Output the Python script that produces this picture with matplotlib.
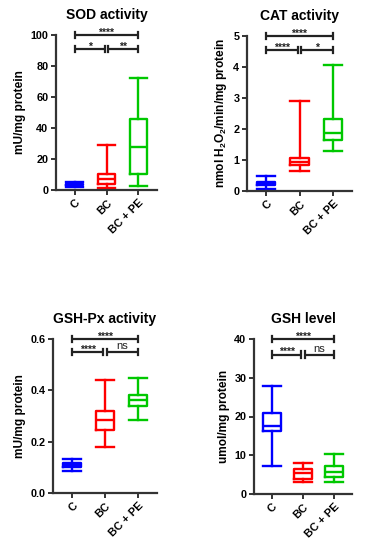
import matplotlib
matplotlib.use("Agg")
import matplotlib.pyplot as plt

plt.rcParams['font.family'] = ['Liberation Sans', 'DejaVu Sans']
plt.rcParams['font.weight'] = 'bold'
plt.rcParams['mathtext.fontset'] = 'custom'
plt.rcParams['mathtext.bf'] = 'Liberation Sans:bold'
plt.rcParams['mathtext.rm'] = 'Liberation Sans:bold'
plt.rcParams['mathtext.default'] = 'bf'

groups = ["C", "BC", "BC + PE"]
colors = ["#0000ff", "#ff0000", "#00c800"]

# box stats per group: (whisker low, q1, median, q3, whisker high)
sod = [(2, 3, 3.5, 4, 5), (1, 4, 7, 10.5, 29), (2.5, 10.5, 27.5, 46, 72)]
cat = [(0.05, 0.18, 0.24, 0.30, 0.48), (0.65, 0.85, 0.95, 1.05, 2.9), (1.28, 1.65, 1.88, 2.32, 4.07)]
gpx = [(0.085, 0.100, 0.110, 0.118, 0.132), (0.18, 0.245, 0.285, 0.32, 0.44), (0.283, 0.34, 0.362, 0.382, 0.447)]
gsh = [(7.2, 16.2, 17.6, 20.8, 28), (3, 4, 5.3, 6.5, 8), (3, 4.3, 5.8, 7.2, 10.4)]

panels = [
    dict(title="SOD activity", data=sod, ylabel="mU/mg protein", ymax=100, yticks=[0, 20, 40, 60, 80, 100],
         fmt="{:.0f}", sig=["****", "*", "**"], lo=91, rect=[56, 35, 157, 190]),
    dict(title="CAT activity", data=cat, ylabel=r"nmol H$_2$O$_2$/min/mg protein", ymax=5, yticks=[0, 1, 2, 3, 4, 5],
         fmt="{:.0f}", sig=["****", "****", "*"], lo=4.55, rect=[247, 36, 352, 191]),
    dict(title="GSH-Px activity", data=gpx, ylabel="mU/mg protein", ymax=0.6, yticks=[0, 0.2, 0.4, 0.6],
         fmt="{:.1f}", sig=["****", "****", "ns"], lo=0.55, rect=[53, 339, 157, 493]),
    dict(title="GSH level", data=gsh, ylabel="umol/mg protein", ymax=40, yticks=[0, 10, 20, 30, 40],
         fmt="{:.0f}", sig=["****", "****", "ns"], lo=36, rect=[254, 339, 352, 494]),
]

W, H = 365, 550
fig = plt.figure(figsize=(W / 100, H / 100), dpi=100)

for p in panels:
    x0, y0, x1, y1 = p["rect"]
    ax = fig.add_axes([x0 / W, 1 - y1 / H, (x1 - x0) / W, (y1 - y0) / H])
    stats = []
    for g, (wl, q1, med, q3, wh) in zip(groups, p["data"]):
        stats.append(dict(label=g, whislo=wl, q1=q1, med=med, q3=q3, whishi=wh, fliers=[]))
    bp = ax.bxp(stats, positions=range(3), widths=0.55, showfliers=False, patch_artist=False,
                capwidths=0.55)
    for i, c in enumerate(colors):
        for art in [bp["boxes"][i], bp["medians"][i]] + bp["whiskers"][2 * i:2 * i + 2] + bp["caps"][2 * i:2 * i + 2]:
            art.set_color(c)
            art.set_linewidth(1.7)
    ax.set_xlim(-0.58, 2.58)
    ax.set_ylim(0, p["ymax"])
    ax.set_yticks(p["yticks"])
    ax.set_yticklabels([p["fmt"].format(t) for t in p["yticks"]], fontsize=7.8, fontweight="bold")
    ax.set_xticks(range(3))
    ax.set_xticklabels(groups, rotation=45, ha="right", rotation_mode="anchor", fontsize=8, fontweight="bold")
    for s in ["top", "right"]:
        ax.spines[s].set_visible(False)
    for s in ["left", "bottom"]:
        ax.spines[s].set_linewidth(1.6)
        ax.spines[s].set_color("#333333")
    ax.tick_params(width=1.4, length=3.5, color="#333333", pad=2)
    ax.set_ylabel(p["ylabel"], fontsize=8.6, fontweight="bold", labelpad=3)
    ax.set_title(p["title"], fontsize=10, fontweight="bold", pad=11.5)

    # significance brackets
    top = p["ymax"]
    lo = p["lo"]
    tk = p["ymax"] * 0.02
    brackets = [(0, 2, top, p["sig"][0]), (0, 0.94, lo, p["sig"][1]), (1.06, 2, lo, p["sig"][2])]
    for xa, xb, yy, txt in brackets:
        ax.plot([xa, xb], [yy, yy], color="#222222", lw=1.6, clip_on=False, solid_capstyle="butt")
        for xe in (xa, xb):
            ax.plot([xe, xe], [yy - tk, yy + tk], color="#222222", lw=1.6, clip_on=False)
        if txt == "ns":
            ax.text((xa + xb) / 2, yy + tk * 0.2, txt, ha="center", va="bottom", fontsize=8,
                    fontweight="normal", color="#222222")
        else:
            ax.text((xa + xb) / 2, yy - tk * 0.9, txt, ha="center", va="bottom", fontsize=7.5,
                    color="#222222")

fig.savefig("out.png", dpi=100)
